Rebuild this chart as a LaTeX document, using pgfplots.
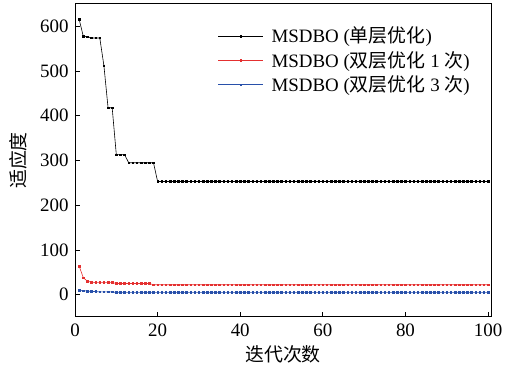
\documentclass[border=0pt]{standalone}
\usepackage{fontspec}
\setmainfont{Liberation Serif}
\newfontfamily\cjk{Noto Sans CJK SC}
\usepackage{pgfplots}
\pgfplotsset{compat=1.18}
\definecolor{myred}{RGB}{228,48,48}
\definecolor{myblue}{RGB}{40,80,170}
\begin{document}
\fontsize{19}{22}\selectfont
\begin{tikzpicture}
\begin{axis}[
  scale only axis,
  width=416bp, height=313bp,
  xmin=0, xmax=100.7, ymin=-50, ymax=650,
  xtick={0,20,...,100}, ytick={0,100,...,600},
  tick pos=left, tick align=inside,
  major tick length=5bp,
  axis line style={line width=1pt},
  every tick/.style={line width=0.8pt, black},
  /pgf/number format/assume math mode=true,
  ticklabel style={font=\fontsize{19}{22}\selectfont},
  xlabel={\cjk 迭代次数}, ylabel={\cjk 适应度},
  label style={font=\fontsize{18}{22}\selectfont},
  every axis x label/.style={at={(axis description cs:0.5,0)}, anchor=center, yshift=-37bp},
  every axis y label/.style={at={(axis description cs:0,0.5)}, anchor=center, rotate=90, yshift=57bp},
  legend style={draw=none, fill=none, at={(0.336,0.94)}, anchor=north west,
    font=\fontsize{19}{22}\selectfont, row sep=1.5bp,
    /tikz/every odd column/.append style={column sep=6bp}},
  legend cell align=left,
  legend image code/.code={\draw[#1] (0bp,0bp) -- (45bp,0bp); \draw[#1,only marks] plot coordinates {(22.5bp,0bp)};},
]
\addplot[black, line width=0.6pt, mark=square*, mark size=0.8pt] coordinates {
(1,616)(2,578)(3,577)(4,574)(5,574)(6,574)(7,512)(8,418)(9,418)(10,313)(11,313)(12,313)
(13,295)(14,295)(15,295)(16,295)(17,295)(18,295)(19,295)
(20,253)(21,253)(22,253)(23,253)(24,253)(25,253)(26,253)(27,253)(28,253)(29,253)(30,253)
(31,253)(32,253)(33,253)(34,253)(35,253)(36,253)(37,253)(38,253)(39,253)(40,253)
(41,253)(42,253)(43,253)(44,253)(45,253)(46,253)(47,253)(48,253)(49,253)(50,253)
(51,253)(52,253)(53,253)(54,253)(55,253)(56,253)(57,253)(58,253)(59,253)(60,253)
(61,253)(62,253)(63,253)(64,253)(65,253)(66,253)(67,253)(68,253)(69,253)(70,253)
(71,253)(72,253)(73,253)(74,253)(75,253)(76,253)(77,253)(78,253)(79,253)(80,253)
(81,253)(82,253)(83,253)(84,253)(85,253)(86,253)(87,253)(88,253)(89,253)(90,253)
(91,253)(92,253)(93,253)(94,253)(95,253)(96,253)(97,253)(98,253)(99,253)(100,253)};
\addlegendentry{MSDBO ({\cjk 单层优化})}
\addplot[myred, line width=0.6pt, mark=square*, mark size=0.8pt] coordinates {
(1,64)(2,38)(3,30)(4,28)(5,27)(6,27)(7,27)(8,27)(9,27)(10,25)(11,25)(12,25)
(13,25)(14,25)(15,25)(16,25)(17,25)(18,25)(19,22)
(20,22)(21,22)(22,22)(23,22)(24,22)(25,22)(26,22)(27,22)(28,22)(29,22)(30,22)
(31,22)(32,22)(33,22)(34,22)(35,22)(36,22)(37,22)(38,22)(39,22)(40,22)
(41,22)(42,22)(43,22)(44,22)(45,22)(46,22)(47,22)(48,22)(49,22)(50,22)
(51,22)(52,22)(53,22)(54,22)(55,22)(56,22)(57,22)(58,22)(59,22)(60,22)
(61,22)(62,22)(63,22)(64,22)(65,22)(66,22)(67,22)(68,22)(69,22)(70,22)
(71,22)(72,22)(73,22)(74,22)(75,22)(76,22)(77,22)(78,22)(79,22)(80,22)
(81,22)(82,22)(83,22)(84,22)(85,22)(86,22)(87,22)(88,22)(89,22)(90,22)
(91,22)(92,22)(93,22)(94,22)(95,22)(96,22)(97,22)(98,22)(99,22)(100,22)};
\addlegendentry{MSDBO ({\cjk 双层优化} 1 {\cjk 次})}
\addplot[myblue, line width=0.6pt, mark=square*, mark size=0.8pt] coordinates {
(1,10)(2,9)(3,8)(4,7)(5,7)(6,6)(7,6)(8,6)(9,6)(10,5)(11,5)(12,5)
(13,5)(14,5)(15,5)(16,5)(17,5)(18,5)(19,5)
(20,5)(21,5)(22,5)(23,5)(24,5)(25,5)(26,5)(27,5)(28,5)(29,5)(30,5)
(31,5)(32,5)(33,5)(34,5)(35,5)(36,5)(37,5)(38,5)(39,5)(40,5)
(41,5)(42,5)(43,5)(44,5)(45,5)(46,5)(47,5)(48,5)(49,5)(50,5)
(51,5)(52,5)(53,5)(54,5)(55,5)(56,5)(57,5)(58,5)(59,5)(60,5)
(61,5)(62,5)(63,5)(64,5)(65,5)(66,5)(67,5)(68,5)(69,5)(70,5)
(71,5)(72,5)(73,5)(74,5)(75,5)(76,5)(77,5)(78,5)(79,5)(80,5)
(81,5)(82,5)(83,5)(84,5)(85,5)(86,5)(87,5)(88,5)(89,5)(90,5)
(91,5)(92,5)(93,5)(94,5)(95,5)(96,5)(97,5)(98,5)(99,5)(100,5)};
\addlegendentry{MSDBO ({\cjk 双层优化} 3 {\cjk 次})}
\end{axis}
\pgfresetboundingbox
\path (current axis.south west) ++(-75bp,-56bp) coordinate (bbA);
\path (current axis.north east) ++(23bp,4bp) coordinate (bbB);
\useasboundingbox (bbA) rectangle (bbB);
\end{tikzpicture}
\end{document}
